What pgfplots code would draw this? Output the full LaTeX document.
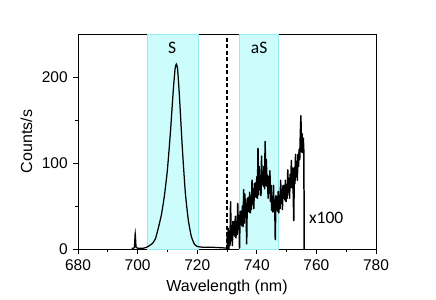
\documentclass[border=0pt]{standalone}
\usepackage{pgfplots}
\pgfplotsset{compat=1.18}
\usepackage{fontspec}
\setmainfont{Liberation Sans}
\newfontfamily\calibri{Carlito}
\definecolor{shade}{RGB}{204,252,252}
\definecolor{shadeedge}{RGB}{150,235,240}
\begin{document}
\fontsize{15.5bp}{18bp}\selectfont
\begin{tikzpicture}
\path[use as bounding box] (-78bp,-51bp) rectangle (358bp,249bp);
\begin{axis}[
  scale only axis, width=298bp, height=215bp,
  at={(0,0)}, anchor=south west,
  xmin=680, xmax=780, ymin=0, ymax=250,
  xtick={680,700,...,780}, ytick={0,100,200},
  minor xtick={690,710,...,770}, minor ytick={50,150},
  tick pos=left, tick align=outside,
  major tick length=5bp, minor tick length=3bp,
  axis line style={line width=1pt}, every tick/.style={black, line width=0.9pt},
  xlabel={Wavelength (nm)}, ylabel={Counts/s},
  xlabel style={yshift=1bp}, ylabel style={yshift=-1bp},
  /pgf/number format/assume math mode=true,
  ticklabel style={font=\fontsize{15.5bp}{18bp}\selectfont},
  label style={font=\fontsize{16bp}{18bp}\selectfont},
  clip=true,
]
\addplot[draw=shadeedge, line width=0.4pt, fill=shade] coordinates {(703.2,0) (703.2,250) (720.3,250) (720.3,0)} -- cycle;
\addplot[draw=shadeedge, line width=0.4pt, fill=shade] coordinates {(734,0) (734,250) (747.3,250) (747.3,0)} -- cycle;
\addplot[black, line width=1.1pt, dash pattern=on 4pt off 2.5pt] coordinates {(730,0) (730,250)};
\addplot[black, line width=1.25pt, smooth, tension=0.3] coordinates {
(698,1) (698.9,1.5) (699.2,18) (699.5,2) (700,1) (702,1) (703,2) (704,4) (705,6.5) (706,12) (707,25) (708,40) (709,62) (710,92) (711,135) (712,186) (712.6,210) (713,215) (713.4,210) (714,180) (715,118) (716,66) (717,34) (718,15) (719,6) (720,3) (722,2) (725,2) (728,1.5) (730,1)
};
\addplot[black, line width=1.5pt, line join=round] coordinates {
(730.0,18) (730.2,1) (730.4,24) (730.6,0) (730.8,19) (731.0,4) (731.2,55) (731.4,10) (731.6,27) (731.8,4)
(732.0,32) (732.2,17) (732.4,32) (732.6,15) (732.8,38) (733.0,13) (733.2,32) (733.4,17) (733.6,53) (733.8,23)
(734.0,39) (734.2,1) (734.4,44) (734.6,29) (734.8,44) (735.0,27) (735.2,50) (735.4,26) (735.6,69) (735.8,30)
(736.0,64) (736.2,37) (736.4,53) (736.6,6) (736.8,59) (737.0,44) (737.2,60) (737.4,43) (737.6,66) (737.8,42)
(738.0,61) (738.2,46) (738.4,80) (738.6,53) (738.8,70) (739.0,47) (739.2,76) (739.4,61) (739.6,77) (739.8,60)
(740.0,84) (740.2,59) (740.4,117) (740.6,63) (740.8,96) (741.0,69) (741.2,85) (741.4,62) (741.6,108) (741.8,75)
(742.0,90) (742.2,73) (742.4,96) (742.6,70) (742.8,125) (743.0,74) (743.2,104) (743.4,73) (743.6,86) (743.8,59)
(744.0,84) (744.2,65) (744.4,91) (744.6,55) (744.8,74) (745.0,45) (745.2,61) (745.4,43) (745.6,74) (745.8,44)
(746.0,57) (746.2,11) (746.4,62) (746.6,46) (746.8,61) (747.0,44) (747.2,67) (747.4,42) (747.6,62) (747.8,47)
(748.0,80) (748.2,53) (748.4,69) (748.6,46) (748.8,74) (749.0,59) (749.2,74) (749.4,57) (749.6,80) (749.8,55)
(750.0,74) (750.2,59) (750.4,92) (750.6,66) (750.8,82) (751.0,59) (751.2,87) (751.4,72) (751.6,103) (751.8,71)
(752.0,94) (752.2,70) (752.4,33) (752.6,95) (752.8,76) (753.0,110) (753.2,84) (753.4,102) (753.6,80) (753.8,110)
(754.0,96) (754.2,116) (754.4,104) (754.6,132) (754.8,155) (755.0,113) (755.2,134) (755.4,112) (755.6,129) (755.8,112)
(755.9,0)
};
\node[font=\calibri\fontsize{17.5bp}{20bp}\selectfont] at (axis cs:711.6,234) {S};
\node[font=\calibri\fontsize{17.5bp}{20bp}\selectfont] at (axis cs:740.8,234) {aS};
\node[font=\calibri\fontsize{17.5bp}{20bp}\selectfont, anchor=west, inner sep=0pt] at (axis cs:757.5,36) {x100};
\end{axis}
\end{tikzpicture}
\end{document}
